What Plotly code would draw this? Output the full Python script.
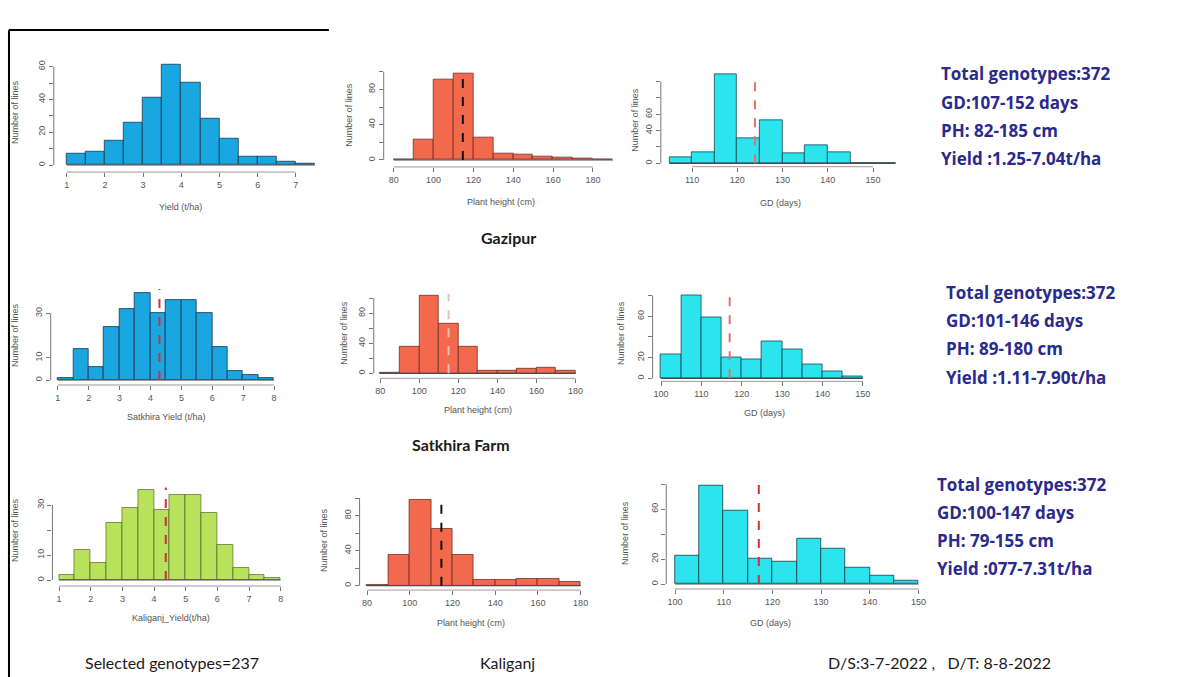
import plotly.graph_objects as go

W, H = 1185, 677

# ---------------- data ----------------
yield_bin_start = 1.0
yield_bin_width = 0.5
ph_bin_start = 80
ph_bin_width = 10
gd_bin_width = 5

gazipur_yield_counts = [7, 8, 15, 26, 41, 61, 50, 28, 16, 5, 5, 2, 1]
gazipur_ph_counts = [0, 23, 91, 98, 25, 7, 6, 4, 3, 1, 0]
gazipur_gd_start = 105
gazipur_gd_counts = [7, 14, 109, 31, 52, 12, 22, 13, 0, 0]

satkhira_yield_counts = [1, 14, 6, 24, 32, 39, 30, 36, 36, 30, 15, 4, 2, 1]
satkhira_ph_counts = [1, 36, 104, 66, 36, 4, 3, 6, 7, 3]
satkhira_gd_start = 100
satkhira_gd_counts = [23, 80, 59, 20, 18, 36, 28, 13, 7, 2]

kaliganj_yield_counts = [2, 12, 7, 23, 29, 36, 28, 34, 34, 27, 14, 5, 2, 1]
kaliganj_ph_counts = [1, 35, 98, 65, 35, 6, 6, 8, 8, 4]
kaliganj_gd_start = 100
kaliganj_gd_counts = [23, 79, 59, 20, 18, 36, 28, 13, 7, 3]

# mean lines
gazipur_ph_mean = 114.7
gazipur_gd_mean = 123.9
satkhira_yield_mean = 4.29
satkhira_ph_mean = 115.0
satkhira_gd_mean = 117.0
kaliganj_yield_mean = 4.37
kaliganj_ph_mean = 114.8
kaliganj_gd_mean = 117.2

yield_ticks_7 = [1, 2, 3, 4, 5, 6, 7]
yield_ticks_8 = [1, 2, 3, 4, 5, 6, 7, 8]
ph_ticks = [80, 100, 120, 140, 160, 180]
gd_ticks_a = [110, 120, 130, 140, 150]
gd_ticks_b = [100, 110, 120, 130, 140, 150]

info_gazipur = ["Total genotypes:372", "GD:107-152 days", "PH: 82-185 cm", "Yield :1.25-7.04t/ha"]
info_satkhira = ["Total genotypes:372", "GD:101-146 days", "PH: 89-180 cm", "Yield :1.11-7.90t/ha"]
info_kaliganj = ["Total genotypes:372", "GD:100-147 days", "PH: 79-155 cm", "Yield :077-7.31t/ha"]

# ---------------- styles / layout ----------------
BLUE = "#1AA6E0"
RED = "#F2694D"
CYAN = "#2BE4EE"
GREEN = "#B9E25C"
NAVY = "#2A2A8C"

panels = [
    dict(counts=gazipur_yield_counts, start=yield_bin_start, bw=yield_bin_width, color=BLUE,
         edge="rgba(20,45,70,0.75)", mean=None, mcol=None,
         xv=1, xpx=67, sx=38.3, xr=[0.66, 7.75], py0=165, sy=1.64, yr=[-4.3, 66],
         xt=yield_ticks_7, yt=[0, 10, 20, 30, 40, 50, 60], ytt=["0", "", "20", "", "40", "", "60"],
         xtitle="Yield (t/ha)", xtp=(181, 207), ytp=(15, 112)),
    dict(counts=gazipur_ph_counts, start=ph_bin_start, bw=ph_bin_width, color=RED,
         edge="rgba(90,35,25,0.7)", mean=gazipur_ph_mean, mcol="#111111", mtop=102,
         xv=80, xpx=395, sx=2.0, xr=[75, 192], py0=160, sy=0.883, yr=[-7.9, 108],
         xt=ph_ticks, yt=[0, 20, 40, 60, 80, 100], ytt=["0", "", "40", "", "80", ""],
         xtitle="Plant height (cm)", xtp=(503, 202), ytp=(350, 115)),
    dict(counts=gazipur_gd_counts, start=gazipur_gd_start, bw=gd_bin_width, color=CYAN,
         edge="rgba(20,60,70,0.75)", mean=gazipur_gd_mean, mcol="#E07070", mtop=110,
         xv=105, xpx=671.7, sx=4.54, xr=[103.1, 156], py0=163.3, sy=0.817, yr=[-4.2, 115],
         xt=gd_ticks_a, yt=[0, 20, 40, 60, 80, 100], ytt=["0", "", "40", "60", "", ""],
         xtitle="GD (days)", xtp=(783, 203), ytp=(637, 120)),
    dict(counts=satkhira_yield_counts, start=yield_bin_start, bw=yield_bin_width, color=BLUE,
         edge="rgba(20,45,70,0.75)", mean=satkhira_yield_mean, mcol="#D03030", mtop=41,
         xv=1, xpx=58, sx=31.0, xr=[0.77, 8.1], py0=380, sy=2.22, yr=[-2.25, 45],
         xt=yield_ticks_8, yt=[0, 10, 30], ytt=["0", "10", "30"],
         xtitle="Satkhira Yield (t/ha)", xtp=(167, 417), ytp=(15, 335)),
    dict(counts=satkhira_ph_counts, start=ph_bin_start, bw=ph_bin_width, color=RED,
         edge="rgba(90,35,25,0.7)", mean=satkhira_ph_mean, mcol="#E3C2B0", mtop=106,
         xv=80, xpx=381.5, sx=1.96, xr=[76.7, 182], py0=373.3, sy=0.75, yr=[-6.7, 110],
         xt=ph_ticks, yt=[0, 20, 40, 60, 80, 100], ytt=["0", "", "40", "", "80", ""],
         xtitle="Plant height (cm)", xtp=(480, 410), ytp=(345, 333)),
    dict(counts=satkhira_gd_counts, start=satkhira_gd_start, bw=gd_bin_width, color=CYAN,
         edge="rgba(20,60,70,0.75)", mean=satkhira_gd_mean, mcol="#E07070", mtop=82,
         xv=100, xpx=663.3, sx=4.05, xr=[97.9, 151], py0=378.3, sy=1.033, yr=[-3, 85],
         xt=gd_ticks_b, yt=[0, 20, 40, 60, 80], ytt=["0", "20", "", "60", ""],
         xtitle="GD (days)", xtp=(767, 413), ytp=(623, 333)),
    dict(counts=kaliganj_yield_counts, start=yield_bin_start, bw=yield_bin_width, color=GREEN,
         edge="rgba(60,80,30,0.6)", mean=kaliganj_yield_mean, mcol="#D03030", mtop=37,
         xv=1, xpx=59.3, sx=31.76, xr=[0.79, 8.1], py0=580, sy=2.5, yr=[-2.4, 42],
         xt=yield_ticks_8, yt=[0, 10, 20, 30], ytt=["0", "10", "", "30"],
         xtitle="Kaliganj_Yield(t/ha)", xtp=(172, 618), ytp=(15, 530)),
    dict(counts=kaliganj_ph_counts, start=ph_bin_start, bw=ph_bin_width, color=RED,
         edge="rgba(90,35,25,0.7)", mean=kaliganj_ph_mean, mcol="#111111", mtop=102,
         xv=80, xpx=368.3, sx=2.143, xr=[76.5, 182], py0=585.7, sy=0.877, yr=[-5, 108],
         xt=ph_ticks, yt=[0, 20, 40, 60, 80, 100], ytt=["0", "", "40", "", "80", ""],
         xtitle="Plant height (cm)", xtp=(473, 623), ytp=(325, 540)),
    dict(counts=kaliganj_gd_counts, start=kaliganj_gd_start, bw=gd_bin_width, color=CYAN,
         edge="rgba(20,60,70,0.8)", mean=kaliganj_gd_mean, mcol="#D03030", mtop=83,
         xv=100, xpx=677.3, sx=4.887, xr=[98.2, 151], py0=584, sy=1.25, yr=[-4, 85],
         xt=gd_ticks_b, yt=[0, 20, 40, 60, 80], ytt=["0", "20", "", "60", ""],
         xtitle="GD (days)", xtp=(773, 623), ytp=(627, 533)),
]

fig = go.Figure()
layout = {}
shapes = []
annotations = []


def fx(px):
    return px / W


def fy(py):
    return 1 - py / H


tick_font = dict(family="Liberation Sans, Arial, sans-serif", size=9, color="#555555")

for i, p in enumerate(panels, start=1):
    xa = "x" if i == 1 else f"x{i}"
    ya = "y" if i == 1 else f"y{i}"
    n = len(p["counts"])
    centers = [p["start"] + p["bw"] * (k + 0.5) for k in range(n)]
    fig.add_trace(go.Bar(
        x=centers, y=p["counts"], width=[p["bw"]] * n,
        marker=dict(color=p["color"], line=dict(color=p["edge"], width=1)),
        xaxis=xa, yaxis=ya, showlegend=False, hoverinfo="skip"))

    def xpix(v, p=p):
        return p["xpx"] + (v - p["xv"]) * p["sx"]

    def ypix(v, p=p):
        return p["py0"] - v * p["sy"]

    layout["xaxis" if i == 1 else f"xaxis{i}"] = dict(
        domain=[fx(xpix(p["xr"][0])), fx(xpix(p["xr"][1]))], range=p["xr"], anchor=ya,
        tickvals=p["xt"], ticks="outside", ticklen=4, tickcolor="#777777", tickwidth=1,
        showgrid=False, zeroline=False, showline=False, tickfont=tick_font, fixedrange=True)
    layout["yaxis" if i == 1 else f"yaxis{i}"] = dict(
        domain=[fy(ypix(p["yr"][0])), fy(ypix(p["yr"][1]))], range=p["yr"], anchor=xa,
        tickvals=p["yt"], ticktext=p["ytt"], tickangle=-90, ticks="outside", ticklen=4,
        tickcolor="#777777", tickwidth=1, showgrid=False, zeroline=False, showline=False,
        tickfont=tick_font, fixedrange=True)

    # baseline of bars
    shapes.append(dict(type="line", xref=xa, yref=ya, x0=p["start"], x1=p["start"] + p["bw"] * n,
                       y0=0, y1=0, line=dict(color="#4a4a4a", width=1.2), layer="above"))
    # y axis line (R style: from 0 to last tick)
    shapes.append(dict(type="line", xref=f"{xa} domain", yref=ya, x0=0, x1=0,
                       y0=p["yt"][0], y1=p["yt"][-1], line=dict(color="#777777", width=1)))
    # x axis line (first tick to last tick)
    shapes.append(dict(type="line", xref=xa, yref=f"{ya} domain", x0=p["xt"][0], x1=p["xt"][-1],
                       y0=0, y1=0, line=dict(color="#9a9a9a", width=1)))
    # mean line
    if p["mean"] is not None:
        shapes.append(dict(type="line", xref=xa, yref=ya, x0=p["mean"], x1=p["mean"],
                           y0=0, y1=p["mtop"], line=dict(color=p["mcol"], width=2, dash="dash"),
                           layer="above"))
    # axis titles
    annotations.append(dict(text=p["xtitle"], x=fx(p["xtp"][0]), y=fy(p["xtp"][1]),
                            xref="paper", yref="paper", showarrow=False, xanchor="center",
                            yanchor="middle", font=dict(family="Liberation Sans, Arial", size=9,
                                                        color="#555555")))
    annotations.append(dict(text="Number of lines", x=fx(p["ytp"][0]), y=fy(p["ytp"][1]),
                            xref="paper", yref="paper", showarrow=False, textangle=-90,
                            xanchor="center", yanchor="middle",
                            font=dict(family="Liberation Sans, Arial", size=9, color="#555555")))

# location labels
label_font = dict(family="Lato, Open Sans, sans-serif", size=16, color="#1a1a1a")
for txt, x, y, bold in [("Gazipur", 510, 237, True), ("Satkhira Farm", 463, 444, True),
                        ("Selected genotypes=237", 173, 662, False), ("Kaliganj", 509, 662, False),
                        ("D/S:3-7-2022 ,   D/T: 8-8-2022", 943, 662, False)]:
    annotations.append(dict(text=f"<b>{txt}</b>" if bold else txt, x=fx(x), y=fy(y),
                            xref="paper", yref="paper", showarrow=False, xanchor="center",
                            yanchor="middle", font=label_font))

# info blocks
for lines, x0, ys in [(info_gazipur, 942, [73, 102, 130, 158]),
                      (info_satkhira, 947, [292, 320, 348, 377]),
                      (info_kaliganj, 938, [484, 512, 540, 568])]:
    for txt, y in zip(lines, ys):
        annotations.append(dict(text=f"<b>{txt}</b>", x=fx(x0), y=fy(y), xref="paper",
                                yref="paper", showarrow=False, xanchor="left", yanchor="middle",
                                font=dict(family="Open Sans, sans-serif", size=17,
                                          color=NAVY)))

# black frame: left edge and top edge of the first panel
shapes.append(dict(type="line", xref="paper", yref="paper", x0=fx(9), x1=fx(9), y0=0, y1=fy(30),
                   line=dict(color="black", width=2)))
shapes.append(dict(type="line", xref="paper", yref="paper", x0=fx(9), x1=fx(330), y0=fy(30),
                   y1=fy(30), line=dict(color="black", width=2)))

fig.update_layout(width=W, height=H, margin=dict(l=0, r=0, t=0, b=0),
                  paper_bgcolor="white", plot_bgcolor="white", bargap=0,
                  shapes=shapes, annotations=annotations, **layout)

fig.write_html("out.html")
